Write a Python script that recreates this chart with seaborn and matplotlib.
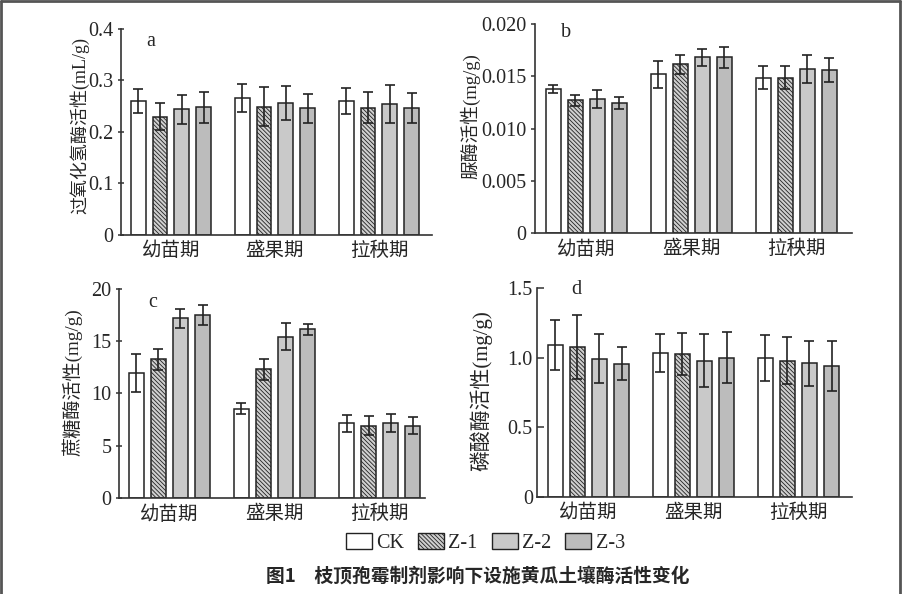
import numpy as np
import pandas as pd
import matplotlib
matplotlib.use("Agg")
import matplotlib.pyplot as plt
from matplotlib.patches import Patch
from matplotlib.lines import Line2D
import seaborn as sns

sns.set_theme(style="white")
plt.rcParams['font.family'] = ['Liberation Serif', 'Noto Sans CJK SC']
plt.rcParams['hatch.linewidth'] = 0.6

stages = ["幼苗期", "盛果期", "拉秧期"]
treatments = ["CK", "Z-1", "Z-2", "Z-3"]

# panel a: catalase (mL/g)
cat_CK = [0.260, 0.266, 0.260]
cat_Z1 = [0.230, 0.249, 0.247]
cat_Z2 = [0.244, 0.257, 0.254]
cat_Z3 = [0.248, 0.246, 0.246]
cat_err_CK = [0.024, 0.028, 0.026]
cat_err_Z1 = [0.027, 0.038, 0.030]
cat_err_Z2 = [0.028, 0.033, 0.037]
cat_err_Z3 = [0.030, 0.028, 0.029]

# panel b: urease (mg/g)
ure_CK = [0.01376, 0.01517, 0.01485]
ure_Z1 = [0.01270, 0.01616, 0.01485]
ure_Z2 = [0.01283, 0.01680, 0.01568]
ure_Z3 = [0.01245, 0.01680, 0.01558]
ure_err_CK = [0.0004, 0.0013, 0.0011]
ure_err_Z1 = [0.00055, 0.0009, 0.0011]
ure_err_Z2 = [0.00085, 0.0008, 0.00136]
ure_err_Z3 = [0.0006, 0.0010, 0.00115]

# panel c: sucrase (mg/g)
suc_CK = [11.98, 8.56, 7.16]
suc_Z1 = [13.29, 12.30, 6.90]
suc_Z2 = [17.19, 15.43, 7.19]
suc_Z3 = [17.50, 16.13, 6.93]
suc_err_CK = [1.80, 0.50, 0.81]
suc_err_Z1 = [1.00, 1.04, 0.90]
suc_err_Z2 = [0.88, 1.30, 0.88]
suc_err_Z3 = [0.94, 0.53, 0.80]

# panel d: phosphatase (mg/g)
pho_CK = [1.089, 1.033, 1.000]
pho_Z1 = [1.079, 1.024, 0.978]
pho_Z2 = [0.993, 0.978, 0.959]
pho_Z3 = [0.955, 1.000, 0.940]
pho_err_CK = [0.179, 0.138, 0.165]
pho_err_Z1 = [0.230, 0.150, 0.167]
pho_err_Z2 = [0.175, 0.190, 0.160]
pho_err_Z3 = [0.118, 0.183, 0.178]

ylabels = ["过氧化氢酶活性(mL/g)", "脲酶活性(mg/g)", "蔗糖酶活性(mg/g)", "磷酸酶活性(mg/g)"]
panel_letters = ["a", "b", "c", "d"]
yticks_list = [
    [0, 0.1, 0.2, 0.3, 0.4],
    [0, 0.005, 0.010, 0.015, 0.020],
    [0, 5, 10, 15, 20],
    [0, 0.5, 1.0, 1.5],
]
yticklabels_list = [
    ["0", "0.1", "0.2", "0.3", "0.4"],
    ["0", "0.005", "0.010", "0.015", "0.020"],
    ["0", "5", "10", "15", "20"],
    ["0", "0.5", "1.0", "1.5"],
]

panels = [
    ([cat_CK, cat_Z1, cat_Z2, cat_Z3], [cat_err_CK, cat_err_Z1, cat_err_Z2, cat_err_Z3]),
    ([ure_CK, ure_Z1, ure_Z2, ure_Z3], [ure_err_CK, ure_err_Z1, ure_err_Z2, ure_err_Z3]),
    ([suc_CK, suc_Z1, suc_Z2, suc_Z3], [suc_err_CK, suc_err_Z1, suc_err_Z2, suc_err_Z3]),
    ([pho_CK, pho_Z1, pho_Z2, pho_Z3], [pho_err_CK, pho_err_Z1, pho_err_Z2, pho_err_Z3]),
]

facecolors = ["#ffffff", "#cfcfcf", "#c9c9c9", "#bcbcbc"]
hatches = [None, "\\\\\\\\\\\\\\\\", None, None]

fig = plt.figure(figsize=(9.02, 5.94), dpi=100)
positions = [
    [0.1341, 0.6044, 0.3448, 0.3468],
    [0.5931, 0.6077, 0.3515, 0.3519],
    [0.1319, 0.1616, 0.3393, 0.3519],
    [0.5953, 0.1633, 0.3493, 0.3519],
]
xlims = [(-0.48, 2.51), (-0.49, 2.53), (-0.48, 2.43), (-0.49, 2.51)]
ylabel_coords = [(-0.103, 0.53), (-0.171, 0.56), (-0.118, 0.555), (-0.140, 0.51)]
ylabel_sizes = [13, 13.5, 13.8, 15]
tick_dirs = ["inout", "out", "inout", "in"]
letter_pos = [(0.08, 0.94), (0.082, 0.957), (0.095, 0.933), (0.108, 0.995)]

for k, (vals, errs) in enumerate(panels):
    ax = fig.add_axes(positions[k])
    rows = []
    for t, v in zip(treatments, vals):
        for s, val in zip(stages, v):
            rows.append({"stage": s, "treatment": t, "value": val})
    df = pd.DataFrame(rows)
    sns.barplot(data=df, x="stage", y="value", hue="treatment",
                order=stages, hue_order=treatments, errorbar=None,
                width=0.84, gap=0.32, palette=facecolors,
                edgecolor="#222222", linewidth=1.1, legend=False, ax=ax)
    bar_containers = list(ax.containers)
    for i, cont in enumerate(bar_containers):
        xs = []
        for p in cont.patches:
            p.set_facecolor(facecolors[i])
            p.set_edgecolor("#222222")
            if hatches[i]:
                p.set_hatch(hatches[i])
            xs.append(p.get_x() + p.get_width() / 2)
        ax.errorbar(xs, vals[i], yerr=errs[i], fmt="none", ecolor="#222222",
                    elinewidth=1.2, capsize=3.5, capthick=1.2, zorder=5)
    ax.set_xlim(*xlims[k])
    ax.set_ylim(yticks_list[k][0], yticks_list[k][-1])
    ax.set_yticks(yticks_list[k])
    ax.set_yticklabels(yticklabels_list[k], fontsize=14.5)
    ax.set_xticks(range(3))
    ax.set_xticklabels(stages, fontsize=14)
    ax.set_xlabel("")
    ax.set_ylabel(ylabels[k], fontsize=ylabel_sizes[k])
    ax.yaxis.set_label_coords(*ylabel_coords[k])
    for side in ["top", "right"]:
        ax.spines[side].set_visible(False)
    for side in ["left", "bottom"]:
        ax.spines[side].set_color("#333333")
        ax.spines[side].set_linewidth(1.2)
    ax.tick_params(axis="y", direction=tick_dirs[k], length=5 if tick_dirs[k] != "out" else 3,
                   width=1.1, color="#333333", pad=3, left=True)
    ax.tick_params(axis="x", length=0, pad=5)
    ax.text(letter_pos[k][0], letter_pos[k][1], panel_letters[k], transform=ax.transAxes,
            fontsize=14.5, ha="left", va="center")

handles = [Patch(facecolor=facecolors[i], edgecolor="#222222", hatch=hatches[i], linewidth=1.0,
                 label=treatments[i]) for i in range(4)]
fig.legend(handles=handles, loc="center", bbox_to_anchor=(0.538, 1 - 543 / 594), ncol=4,
           frameon=False, fontsize=14.5, handlelength=1.3, handleheight=0.8,
           columnspacing=0.7, handletextpad=0.2)

fig.text(0.53, 1 - 577 / 594, "图1　枝顶孢霉制剂影响下设施黄瓜土壤酶活性变化",
         ha="center", va="center", fontsize=13.5, fontweight="bold",
         family=["Noto Sans CJK SC", "DejaVu Sans"])

for xs_, ys_ in [([0.001, 0.001], [0, 0.999]), ([0.001, 0.998], [0.999, 0.999]), ([0.998, 0.998], [0.999, 0])]:
    fig.add_artist(Line2D(xs_, ys_, transform=fig.transFigure, color="#555555", linewidth=2.0))

fig.savefig("out.png", dpi=100, facecolor="white")
